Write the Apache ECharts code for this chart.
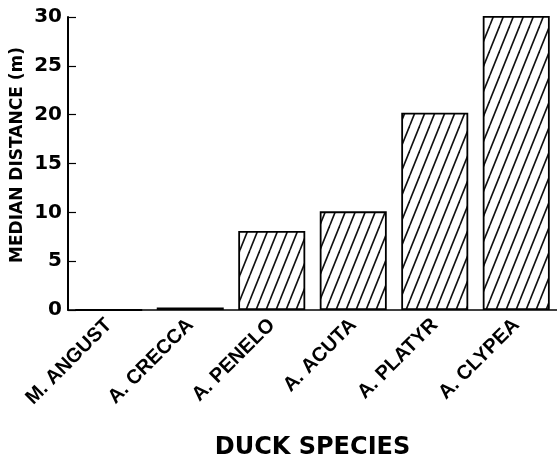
<!DOCTYPE html>
<html>
<head>
<meta charset="utf-8">
<script src="https://cdn.jsdelivr.net/npm/echarts@6/dist/echarts.min.js"></script>
<style>
  html, body { margin: 0; padding: 0; background: #fff; }
  #chart { width: 557px; height: 460px; }
</style>
</head>
<body>
<div id="chart"></div>
<script>
// Median distance (m) by duck species
const species = ['M. ANGUST', 'A. CRECCA', 'A. PENELO', 'A. ACUTA', 'A. PLATYR', 'A. CLYPEA'];
const medianDistance = [0, 0.25, 8.1, 10.1, 20.2, 30.1];
const yTicks = [0, 5, 10, 15, 20, 25, 30];
const yTitle = 'MEDIAN DISTANCE (m)';
const xTitle = 'DUCK SPECIES';

// Diagonal hatch tile used as the bar fill
function hatchTile() {
  const w = 10, h = 25;
  const c = document.createElement('canvas');
  c.width = w; c.height = h;
  const ctx = c.getContext('2d');
  ctx.fillStyle = '#fff';
  ctx.fillRect(0, 0, w, h);
  ctx.strokeStyle = '#111';
  ctx.lineWidth = 1.6;
  for (const dx of [-w, 0, w]) {
    ctx.beginPath();
    ctx.moveTo(dx, h);
    ctx.lineTo(dx + w, 0);
    ctx.stroke();
  }
  return c;
}

const font = 'DejaVu Sans';
const labelFont = 'Liberation Sans';
const chart = echarts.init(document.getElementById('chart'), null, { renderer: 'canvas' });
chart.setOption({
  animation: false,
  backgroundColor: '#fff',
  grid: { left: 68, right: 0, top: 17, bottom: 150, containLabel: false, outerBoundsMode: 'none' },
  graphic: [{
    type: 'text',
    x: 18,
    y: 155,
    rotation: Math.PI / 2,
    style: {
      text: yTitle,
      fontFamily: font,
      fontWeight: 'bold',
      fontSize: 17,
      fill: '#000',
      textAlign: 'center',
      textVerticalAlign: 'middle'
    }
  }],
  xAxis: {
    type: 'category',
    data: species,
    name: xTitle,
    nameLocation: 'middle',
    nameGap: 126,
    nameTextStyle: { fontFamily: font, fontWeight: 'bold', fontSize: 24, color: '#000', verticalAlign: 'top' },
    axisLine: { lineStyle: { color: '#000', width: 1.6 } },
    axisTick: { alignWithLabel: true, length: 4, lineStyle: { color: '#000', width: 1.2 } },
    axisLabel: { rotate: 45, margin: 12, fontFamily: labelFont, fontWeight: 'bold', fontSize: 20, color: '#000' }
  },
  yAxis: {
    type: 'value',
    min: yTicks[0],
    max: yTicks[yTicks.length - 1],
    interval: 5,
    splitLine: { show: false },
    axisLine: { show: true, lineStyle: { color: '#000', width: 2 } },
    axisTick: { show: true, inside: true, length: 8, lineStyle: { color: '#000', width: 1.2 } },
    axisLabel: { margin: 6, fontFamily: font, fontWeight: 'bold', fontSize: 20, color: '#000' }
  },
  series: [{
    type: 'bar',
    data: medianDistance,
    barWidth: 67,
    clip: false,
    itemStyle: {
      color: { image: hatchTile(), repeat: 'repeat' },
      borderColor: '#000',
      borderWidth: 1.8
    }
  }]
});
</script>
</body>
</html>
